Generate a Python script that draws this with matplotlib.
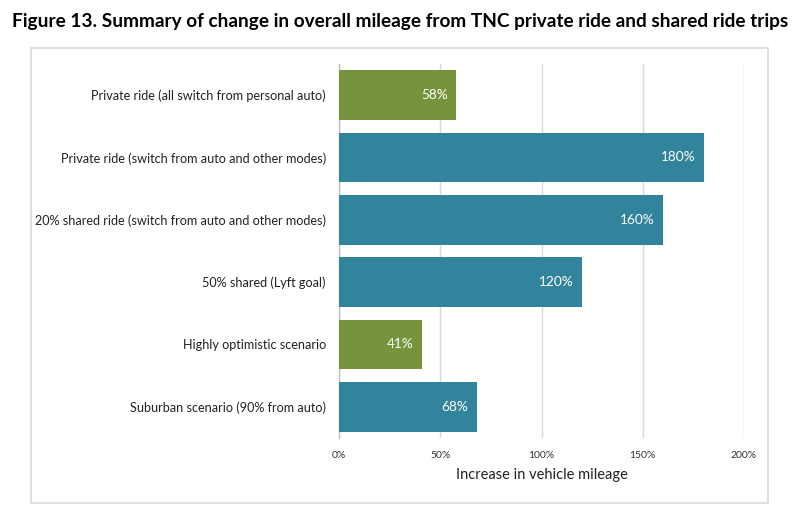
import matplotlib
matplotlib.use("Agg")
import matplotlib.pyplot as plt
from matplotlib.patches import Rectangle
from matplotlib.ticker import FuncFormatter

categories = [
    "Private ride (all switch from personal auto)",
    "Private ride (switch from auto and other modes)",
    "20% shared ride (switch from auto and other modes)",
    "50% shared (Lyft goal)",
    "Highly optimistic scenario",
    "Suburban scenario (90% from auto)",
]
values = [58, 180, 160, 120, 41, 68]
bar_groups = ["green", "teal", "teal", "teal", "green", "teal"]
xticks = [0, 50, 100, 150, 200]
title = "Figure 13. Summary of change in overall mileage from TNC private ride and shared ride trips"
xlabel = "Increase in vehicle mileage"

palette = {"green": "#77933C", "teal": "#31849B"}
FONT = "Lato"

W, H = 800, 513
fig = plt.figure(figsize=(W / 100, H / 100), dpi=100)
fig.patch.set_facecolor("white")

# chart box
fig.patches.append(Rectangle((31 / W, 1 - 503 / H), (768 - 31) / W, (503 - 48) / H,
                             transform=fig.transFigure, fill=False,
                             edgecolor="#D9D9D9", linewidth=1.2, zorder=0))

ax = fig.add_axes([339 / W, 1 - 438 / H, (744 - 339) / W, (438 - 64) / H])
ypos = list(range(len(categories)))
ax.barh(ypos, values, height=0.8, color=[palette[g] for g in bar_groups], zorder=3)
ax.set_ylim(len(categories) - 0.5, -0.5)
ax.set_xlim(0, 200)
ax.set_xticks(xticks)
ax.xaxis.set_major_formatter(FuncFormatter(lambda v, p: f"{v:.0f}%"))
ax.set_yticks(ypos)
ax.set_yticklabels(categories, fontsize=9.1, family=FONT, color="#222222")
for lab in ax.get_xticklabels():
    lab.set_fontsize(7.5)
    lab.set_family(FONT)
    lab.set_color("#333333")
ax.tick_params(axis="both", length=0)
ax.tick_params(axis="y", pad=9.5)
ax.tick_params(axis="x", pad=9)
ax.grid(axis="x", color="#D9D9D9", linewidth=1, zorder=0)
for s in ["top", "right", "bottom"]:
    ax.spines[s].set_visible(False)
ax.spines["left"].set_color("#BFBFBF")
ax.spines["left"].set_linewidth(1)
ax.set_xlabel(xlabel, fontsize=10.5, family=FONT, color="#222222", labelpad=6)

for y, v in zip(ypos, values):
    ax.text(v - 4, y, f"{v}%", ha="right", va="center", color="white",
            fontsize=9.8, family=FONT, zorder=4)

t = fig.text(400 / W, 1 - 22 / H, title, ha="center", va="center",
             fontsize=14, fontweight="bold", family=FONT, color="black")
fig.canvas.draw()
bb = t.get_window_extent()
t.set_fontsize(14 * 780 / bb.width)

fig.savefig("out.png", dpi=100, facecolor="white")
